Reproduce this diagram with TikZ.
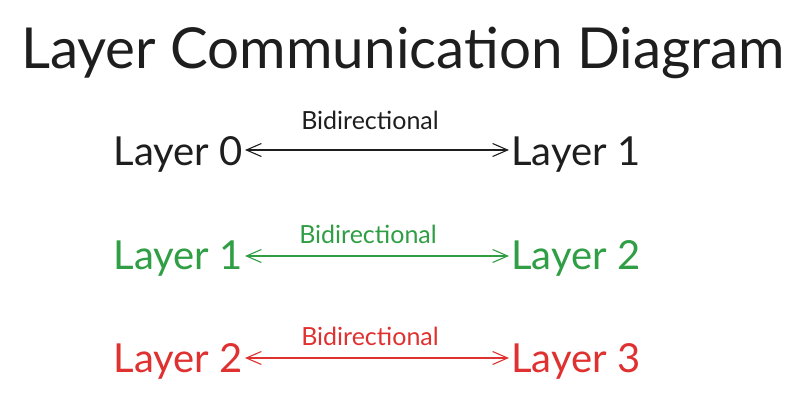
\documentclass[tikz,border=0pt]{standalone}
\usepackage{fontspec}
\setmainfont{Lato}
\usetikzlibrary{arrows.meta}
\definecolor{inkblack}{HTML}{1E1E1E}
\definecolor{inkgreen}{HTML}{2F9E44}
\definecolor{inkred}{HTML}{E03131}
\begin{document}
\begin{tikzpicture}[x=1pt, y=-1pt,
  title/.style={inner sep=0pt, font=\fontsize{56.5}{64}\selectfont, text=inkblack},
  layerl/.style={inner sep=0pt, anchor=base east, font=\fontsize{40}{48}\selectfont, text=#1},
  layerr/.style={inner sep=0pt, anchor=base west, font=\fontsize{40}{48}\selectfont, text=#1},
  link/.style={draw=#1, line width=1.1pt, {Straight Barb[length=15pt, width=13pt]}-{Straight Barb[length=15pt, width=13pt]}, shorten <=2pt, shorten >=2pt},
  lab/.style={inner sep=0pt, anchor=base, font=\fontsize{25}{30}\selectfont, text=#1},
]
\useasboundingbox (0,0) rectangle (812,410);
% ---- title
\node[title, anchor=base] (title) at (403, 68) {Layer Communication Diagram};
% ---- row 1 (black): Layer 0 <-> Layer 1
\node[layerl={inkblack}] (l0) at (243, 165) {Layer 0};
\node[layerr={inkblack}] (l1a) at (511, 165) {Layer 1};
\draw[link={inkblack}] (l0.east |- 0,150) -- (l1a.west |- 0,150);
\node[lab={inkblack}] (lab0) at (370, 129) {Bidirectional};
% ---- row 2 (green): Layer 1 <-> Layer 2
\node[layerl={inkgreen}] (l1b) at (243, 269) {Layer 1};
\node[layerr={inkgreen}] (l2a) at (511, 269) {Layer 2};
\draw[link={inkgreen}] (l1b.east |- 0,256) -- (l2a.west |- 0,256);
\node[lab={inkgreen}] (lab1) at (368, 243) {Bidirectional};
% ---- row 3 (red): Layer 2 <-> Layer 3
\node[layerl={inkred}] (l2b) at (243, 372) {Layer 2};
\node[layerr={inkred}] (l3) at (511, 372) {Layer 3};
\draw[link={inkred}] (l2b.east |- 0,358) -- (l3.west |- 0,358);
\node[lab={inkred}] (lab2) at (370, 345) {Bidirectional};
\end{tikzpicture}
\end{document}
